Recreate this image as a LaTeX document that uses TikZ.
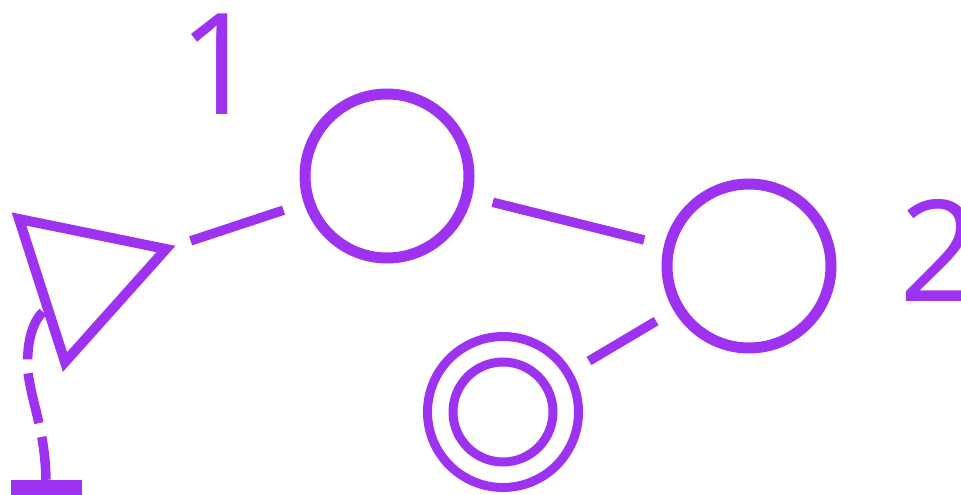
\documentclass[tikz,border=0pt]{standalone}
\usepackage{fontspec}
\setmainfont{Open Sans}
\usepackage{xcolor}
\definecolor{nodepurple}{HTML}{9D33F0}
\tikzset{
  ring/.style={circle,draw=nodepurple,line width=11pt,minimum size=164pt,inner sep=0pt},
  innerring/.style={circle,draw=nodepurple,line width=9pt,inner sep=0pt},
  wire/.style={draw=nodepurple,line width=9.5pt},
  digit/.style={text=nodepurple,font=\fontsize{141}{141}\selectfont,inner sep=0pt},
}
\begin{document}
\begin{tikzpicture}[x=1pt,y=-1pt]
  \useasboundingbox (0,0) rectangle (961,495);
  % rings
  \node[ring] (ringa) at (387,176) {};
  \node[ring] (ringb) at (749,266) {};
  \node[innerring,minimum size=151pt] (ringc) at (503,412) {};
  \node[innerring,minimum size=100pt] (ringd) at (503,412) {};
  % numbers
  \node[digit] (labela) at (219,64) {1};
  \node[digit,anchor=west] (labelb) at (899,250) {2};
  % triangle
  \coordinate (tria) at (19,219);
  \coordinate (trib) at (166,249);
  \coordinate (tric) at (65,362);
  \draw[wire,line width=10pt,line join=miter,fill=white] (tria)--(trib)--(tric)--cycle;
  % links
  \draw[wire,shorten <=26pt,shorten >=109pt] (trib)--(ringa.center);
  \draw[wire,shorten <=109pt,shorten >=108pt] (ringa.center)--(ringb.center);
  \draw[wire,shorten <=108pt,shorten >=100pt] (ringb.center)--(ringc.center);
  % stub
  \node[fill=nodepurple,minimum width=71pt,minimum height=16pt,inner sep=0pt] (stub) at (46,488) {};
  \coordinate (stubin) at (43,312);
  \draw[wire,dash pattern=on 51pt off 14pt] (stubin) .. controls (32,322) and (26,345) .. (28,372) .. controls (32,405) and (45,430) .. (stub.north);
\end{tikzpicture}
\end{document}
